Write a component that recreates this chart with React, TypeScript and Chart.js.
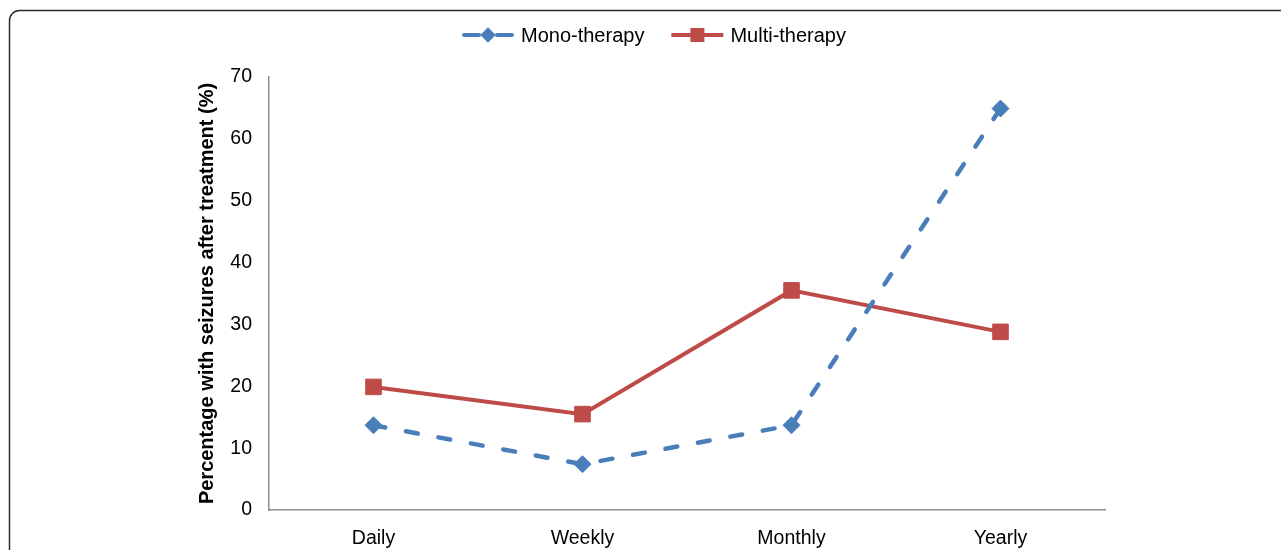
import React, { useEffect, useRef } from "react";
import { Chart, registerables } from "chart.js";

Chart.register(...registerables);

const categories = ["Daily", "Weekly", "Monthly", "Yearly"];
const monoValues = [13.7, 7.4, 13.7, 64.9];
const multiValues = [19.9, 15.5, 35.5, 28.8];
const seriesNames = ["Mono-therapy", "Multi-therapy"];
const yTitle = "Percentage with seizures after treatment (%)";
const yMin = 0;
const yMax = 70;
const yStep = 10;

const FONT = "'Liberation Sans', Arial, Helvetica, sans-serif";
const BLUE = "#4A7EBB";
const RED = "#BE4B48";

function drawMarker(ctx: CanvasRenderingContext2D, style: string, x: number, y: number, r: number, color: string) {
  ctx.save();
  ctx.fillStyle = color;
  ctx.beginPath();
  if (style === "rectRot") {
    ctx.moveTo(x, y - r);
    ctx.lineTo(x + r, y);
    ctx.lineTo(x, y + r);
    ctx.lineTo(x - r, y);
    ctx.closePath();
  } else {
    const s = r * Math.SQRT1_2;
    ctx.rect(x - s, y - s, 2 * s, 2 * s);
  }
  ctx.fill();
  ctx.restore();
}

const framePlugin = {
  id: "frame",
  beforeDraw(chart: any) {
    const ctx = chart.ctx;
    ctx.save();
    ctx.strokeStyle = "#2a2a2a";
    ctx.lineWidth = 1.5;
    ctx.beginPath();
    (ctx as any).roundRect(9.5, 10.5, 1500, 800, 10);
    ctx.stroke();
    ctx.restore();
  },
};

const legendPlugin = {
  id: "customLegend",
  afterDraw(chart: any) {
    const ctx: CanvasRenderingContext2D = chart.ctx;
    ctx.save();
    ctx.font = `20px ${FONT}`;
    ctx.textBaseline = "middle";
    ctx.textAlign = "left";
    const cy = 35;
    let x = 462;
    chart.data.datasets.forEach((ds: any) => {
      const lineW = 52;
      const cx = x + lineW / 2;
      ctx.strokeStyle = ds.borderColor;
      ctx.lineWidth = 4;
      ctx.lineCap = "round";
      ctx.beginPath();
      if (ds.borderDash && ds.borderDash.length) {
        ctx.moveTo(x + 2, cy);
        ctx.lineTo(cx - 9, cy);
        ctx.moveTo(cx + 9, cy);
        ctx.lineTo(x + lineW - 2, cy);
      } else {
        ctx.lineCap = "butt";
        ctx.moveTo(x, cy);
        ctx.lineTo(x + lineW, cy);
      }
      ctx.stroke();
      drawMarker(ctx, ds.pointStyle, cx, cy, ds.pointRadius * 0.9, ds.pointBackgroundColor);
      ctx.fillStyle = "#000";
      const tx = x + lineW + 7;
      ctx.fillText(ds.label, tx, cy + 1);
      x = tx + ctx.measureText(ds.label).width + 27;
    });
    ctx.restore();
  },
};

export default function App() {
  const ref = useRef<HTMLCanvasElement | null>(null);

  useEffect(() => {
    if (!ref.current) return;
    const chart = new Chart(ref.current, {
      type: "line",
      data: {
        labels: categories,
        datasets: [
          {
            label: seriesNames[0],
            data: monoValues,
            borderColor: BLUE,
            backgroundColor: BLUE,
            borderWidth: 4.5,
            borderDash: [12, 21],
            borderCapStyle: "round",
            pointStyle: "rectRot",
            pointRadius: 8.5,
            pointHoverRadius: 8.5,
            pointBackgroundColor: BLUE,
            pointBorderColor: BLUE,
            pointBorderWidth: 1,
            tension: 0,
            fill: false,
          } as any,
          {
            label: seriesNames[1],
            data: multiValues,
            borderColor: RED,
            backgroundColor: RED,
            borderWidth: 4,
            pointStyle: "rect",
            pointRadius: 11,
            pointHoverRadius: 11,
            pointBackgroundColor: RED,
            pointBorderColor: RED,
            pointBorderWidth: 1,
            tension: 0,
            fill: false,
          } as any,
        ],
      },
      options: {
        animation: false,
        responsive: false,
        maintainAspectRatio: false,
        devicePixelRatio: 1,
        layout: { padding: { left: 191, top: 77, right: 176, bottom: 0 } },
        plugins: {
          legend: { display: false },
          tooltip: { enabled: false },
        },
        scales: {
          x: {
            offset: true,
            grid: { display: false, drawTicks: false },
            border: { display: true, color: "#8e8e8e", width: 1.5 },
            ticks: { color: "#000", font: { family: FONT, size: 19.5 }, padding: 17 },
            afterFit(scale: any) {
              scale.height = 40;
            },
          },
          y: {
            min: yMin,
            max: yMax,
            grid: { display: false, drawTicks: false },
            border: { display: true, color: "#8e8e8e", width: 1.5 },
            ticks: { stepSize: yStep, color: "#000", font: { family: FONT, size: 19.5 }, padding: 17 },
            title: {
              display: true,
              text: yTitle,
              color: "#000",
              font: { family: FONT, size: 20, weight: "bold" },
              padding: { top: 4, bottom: 4 },
            },
            afterFit(scale: any) {
              scale.width = 78;
            },
          },
        },
      },
      plugins: [framePlugin, legendPlugin],
    });
    return () => chart.destroy();
  }, []);

  return (
    <div style={{ position: "absolute", left: 0, top: 0, width: 1281, height: 550, background: "#fff" }}>
      <canvas ref={ref} width={1281} height={550} style={{ display: "block", width: 1281, height: 550 }} />
    </div>
  );
}
